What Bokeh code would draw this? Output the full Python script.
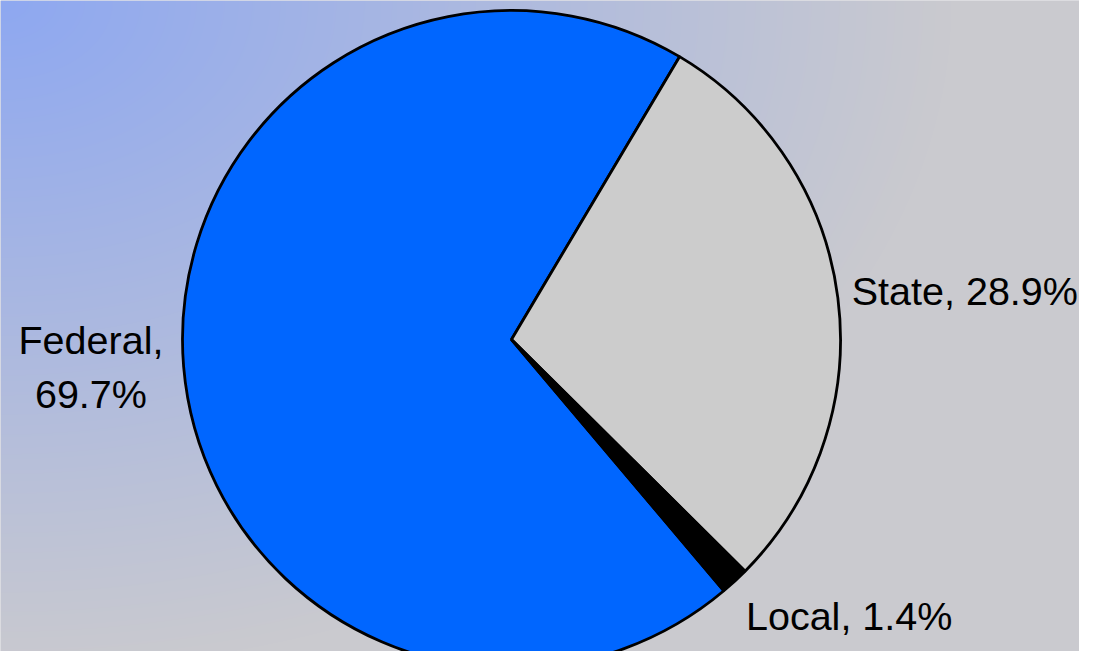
import numpy as np
from bokeh.plotting import figure
from bokeh.models import Range1d, ColumnDataSource
from bokeh.core.properties import value
from bokeh.embed import file_html
from bokeh.resources import INLINE

categories = ["Federal", "State", "Local"]
shares = [69.7, 28.9, 1.4]
label_text = ["Federal,\n69.7%", "State, 28.9%", "Local, 1.4%"]
colors = ["#0066FF", "#CCCCCC", "#000000"]

W, H = 1079, 651
TOTAL_H = H

p = figure(width=W, height=H, output_backend="svg", toolbar_location=None,
           x_range=Range1d(0, W), y_range=Range1d(0, H), min_border=0)
p.axis.visible = False
p.grid.visible = False
p.outline_line_color = None
p.background_fill_color = "#C8C8CE"
p.border_fill_color = "#C8C8CE"

# background gradient (radial-ish from top-left)
xs = np.arange(W)
ys_screen = np.arange(H)[::-1]   # row 0 is bottom
X, Y = np.meshgrid(xs, ys_screen)
t = np.clip(np.sqrt((X / 950.0) ** 2 + (Y / 670.0) ** 2), 0, 1)
c0 = np.array([142, 168, 241])
c1 = np.array([202, 202, 207])
img = np.zeros((H, W), dtype=np.uint32)
view = img.view(dtype=np.uint8).reshape((H, W, 4))
for k in range(3):
    view[:, :, k] = (c0[k] + (c1[k] - c0[k]) * t).astype(np.uint8)
view[:, :, 3] = 255
p.image_rgba(image=[img], x=0, y=0, dw=W, dh=H)

# pie
cx, cy = 511, TOTAL_H - 339
R = 329
first_angle = 139.8  # degrees clockwise from 12 o'clock
vals = np.array(shares)
frac = vals / vals.sum()
cum_end = first_angle + np.cumsum(frac) * 360
cum_start = cum_end - frac * 360
start_rad = np.deg2rad(90 - cum_start)
end_rad = np.deg2rad(90 - cum_end)
mid_cw = np.deg2rad((cum_start + cum_end) / 2)

src = ColumnDataSource(dict(cat=categories, start=start_rad, end=end_rad, color=colors))
p.wedge(x=cx, y=cy, radius=R, start_angle="start", end_angle="end", direction="clock",
        fill_color="color", line_color="black", line_width=2.8, source=src)

# labels
label_r = [420, 345, 350]
offs_x = [-2, -2, -3]
offs_y = [7, 5, 3]
aligns = ["center", "left", "left"]
baselines = ["middle", "middle", "top"]
lx = cx + np.sin(mid_cw) * np.array(label_r) + np.array(offs_x)
ly = cy + np.cos(mid_cw) * np.array(label_r) + np.array(offs_y)
for i in range(3):
    p.text(x=[lx[i]], y=[ly[i]], text=[label_text[i]], text_font=value("Liberation Sans"),
           text_font_size="39.5px", text_color="black", text_align=aligns[i],
           text_baseline=baselines[i], text_line_height=1.24)

open("out.html", "w").write(file_html(p, INLINE))
